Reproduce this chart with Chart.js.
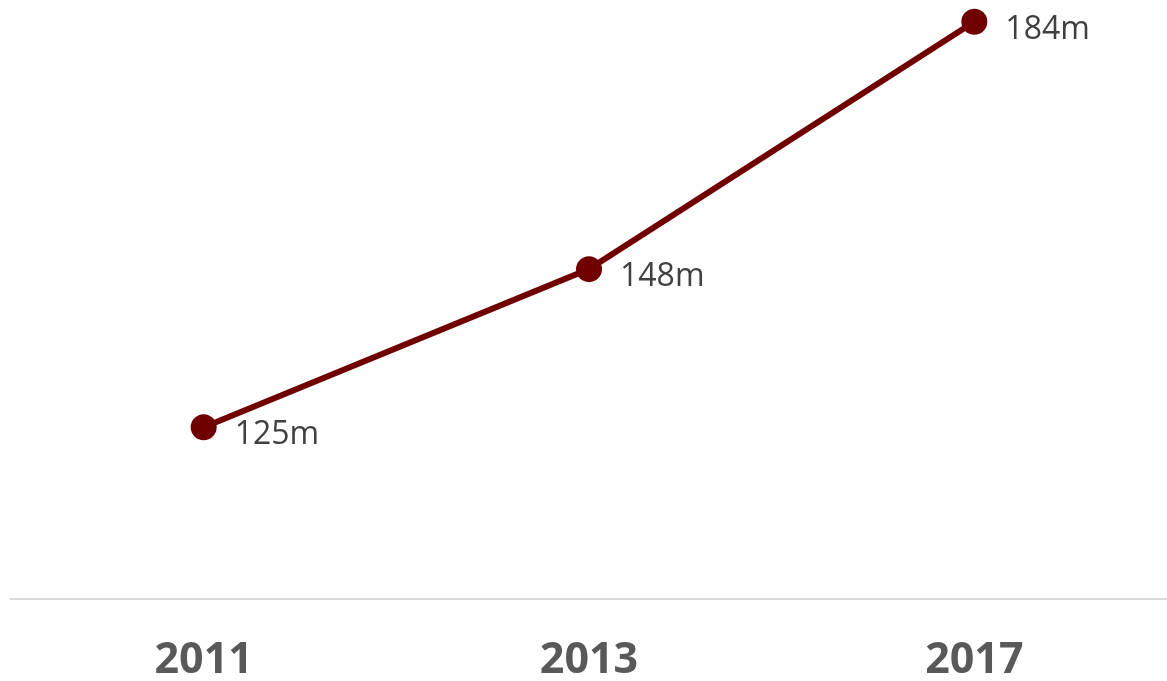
<!DOCTYPE html>
<html>
<head>
<meta charset="utf-8">
<script src="https://cdn.jsdelivr.net/npm/chart.js@4/dist/chart.umd.min.js"></script>
<style>
  html, body { margin: 0; padding: 0; background: #ffffff; }
  #wrap { width: 1167px; height: 681px; position: relative; }
</style>
</head>
<body>
<div id="wrap"><canvas id="c" width="1167" height="681"></canvas></div>
<script>
const categories = ['2011', '2013', '2017'];
const values = [125, 148, 184];
const valueLabels = ['125m', '148m', '184m'];

const labelPlugin = {
  id: 'valueLabels',
  afterDatasetsDraw(chart) {
    const ctx = chart.ctx;
    const meta = chart.getDatasetMeta(0);
    ctx.save();
    ctx.font = '32px "Open Sans", sans-serif';
    ctx.fillStyle = '#404040';
    ctx.textAlign = 'left';
    ctx.textBaseline = 'middle';
    meta.data.forEach((pt, i) => {
      ctx.fillText(valueLabels[i], pt.x + 31, pt.y + 8);
    });
    ctx.restore();
  }
};

new Chart(document.getElementById('c'), {
  type: 'line',
  data: {
    labels: categories,
    datasets: [{
      data: values,
      borderColor: '#700000',
      backgroundColor: '#700000',
      borderWidth: 6,
      pointRadius: 13,
      pointHoverRadius: 13,
      pointBackgroundColor: '#700000',
      pointBorderColor: '#700000',
      pointBorderWidth: 0,
      tension: 0,
      clip: false
    }]
  },
  options: {
    responsive: false,
    animation: false,
    events: [],
    layout: { autoPadding: false, padding: { left: 11, right: -4, top: 8, bottom: 0 } },
    plugins: {
      legend: { display: false },
      tooltip: { enabled: false }
    },
    scales: {
      x: {
        offset: true,
        grid: { display: false, drawTicks: false },
        border: { display: true, color: '#d9d9d9', width: 2 },
        ticks: {
          color: '#595959',
          padding: 40,
          maxRotation: 0,
          font: { family: '"Open Sans", sans-serif', size: 43, weight: 'bold', lineHeight: 1.0 }
        },
        afterFit(scale) {
          scale.height = 82;
          scale.paddingLeft = 0;
          scale.paddingRight = 0;
        }
      },
      y: {
        display: false,
        min: 100,
        max: 186
      }
    }
  },
  plugins: [labelPlugin]
});
</script>
</body>
</html>
